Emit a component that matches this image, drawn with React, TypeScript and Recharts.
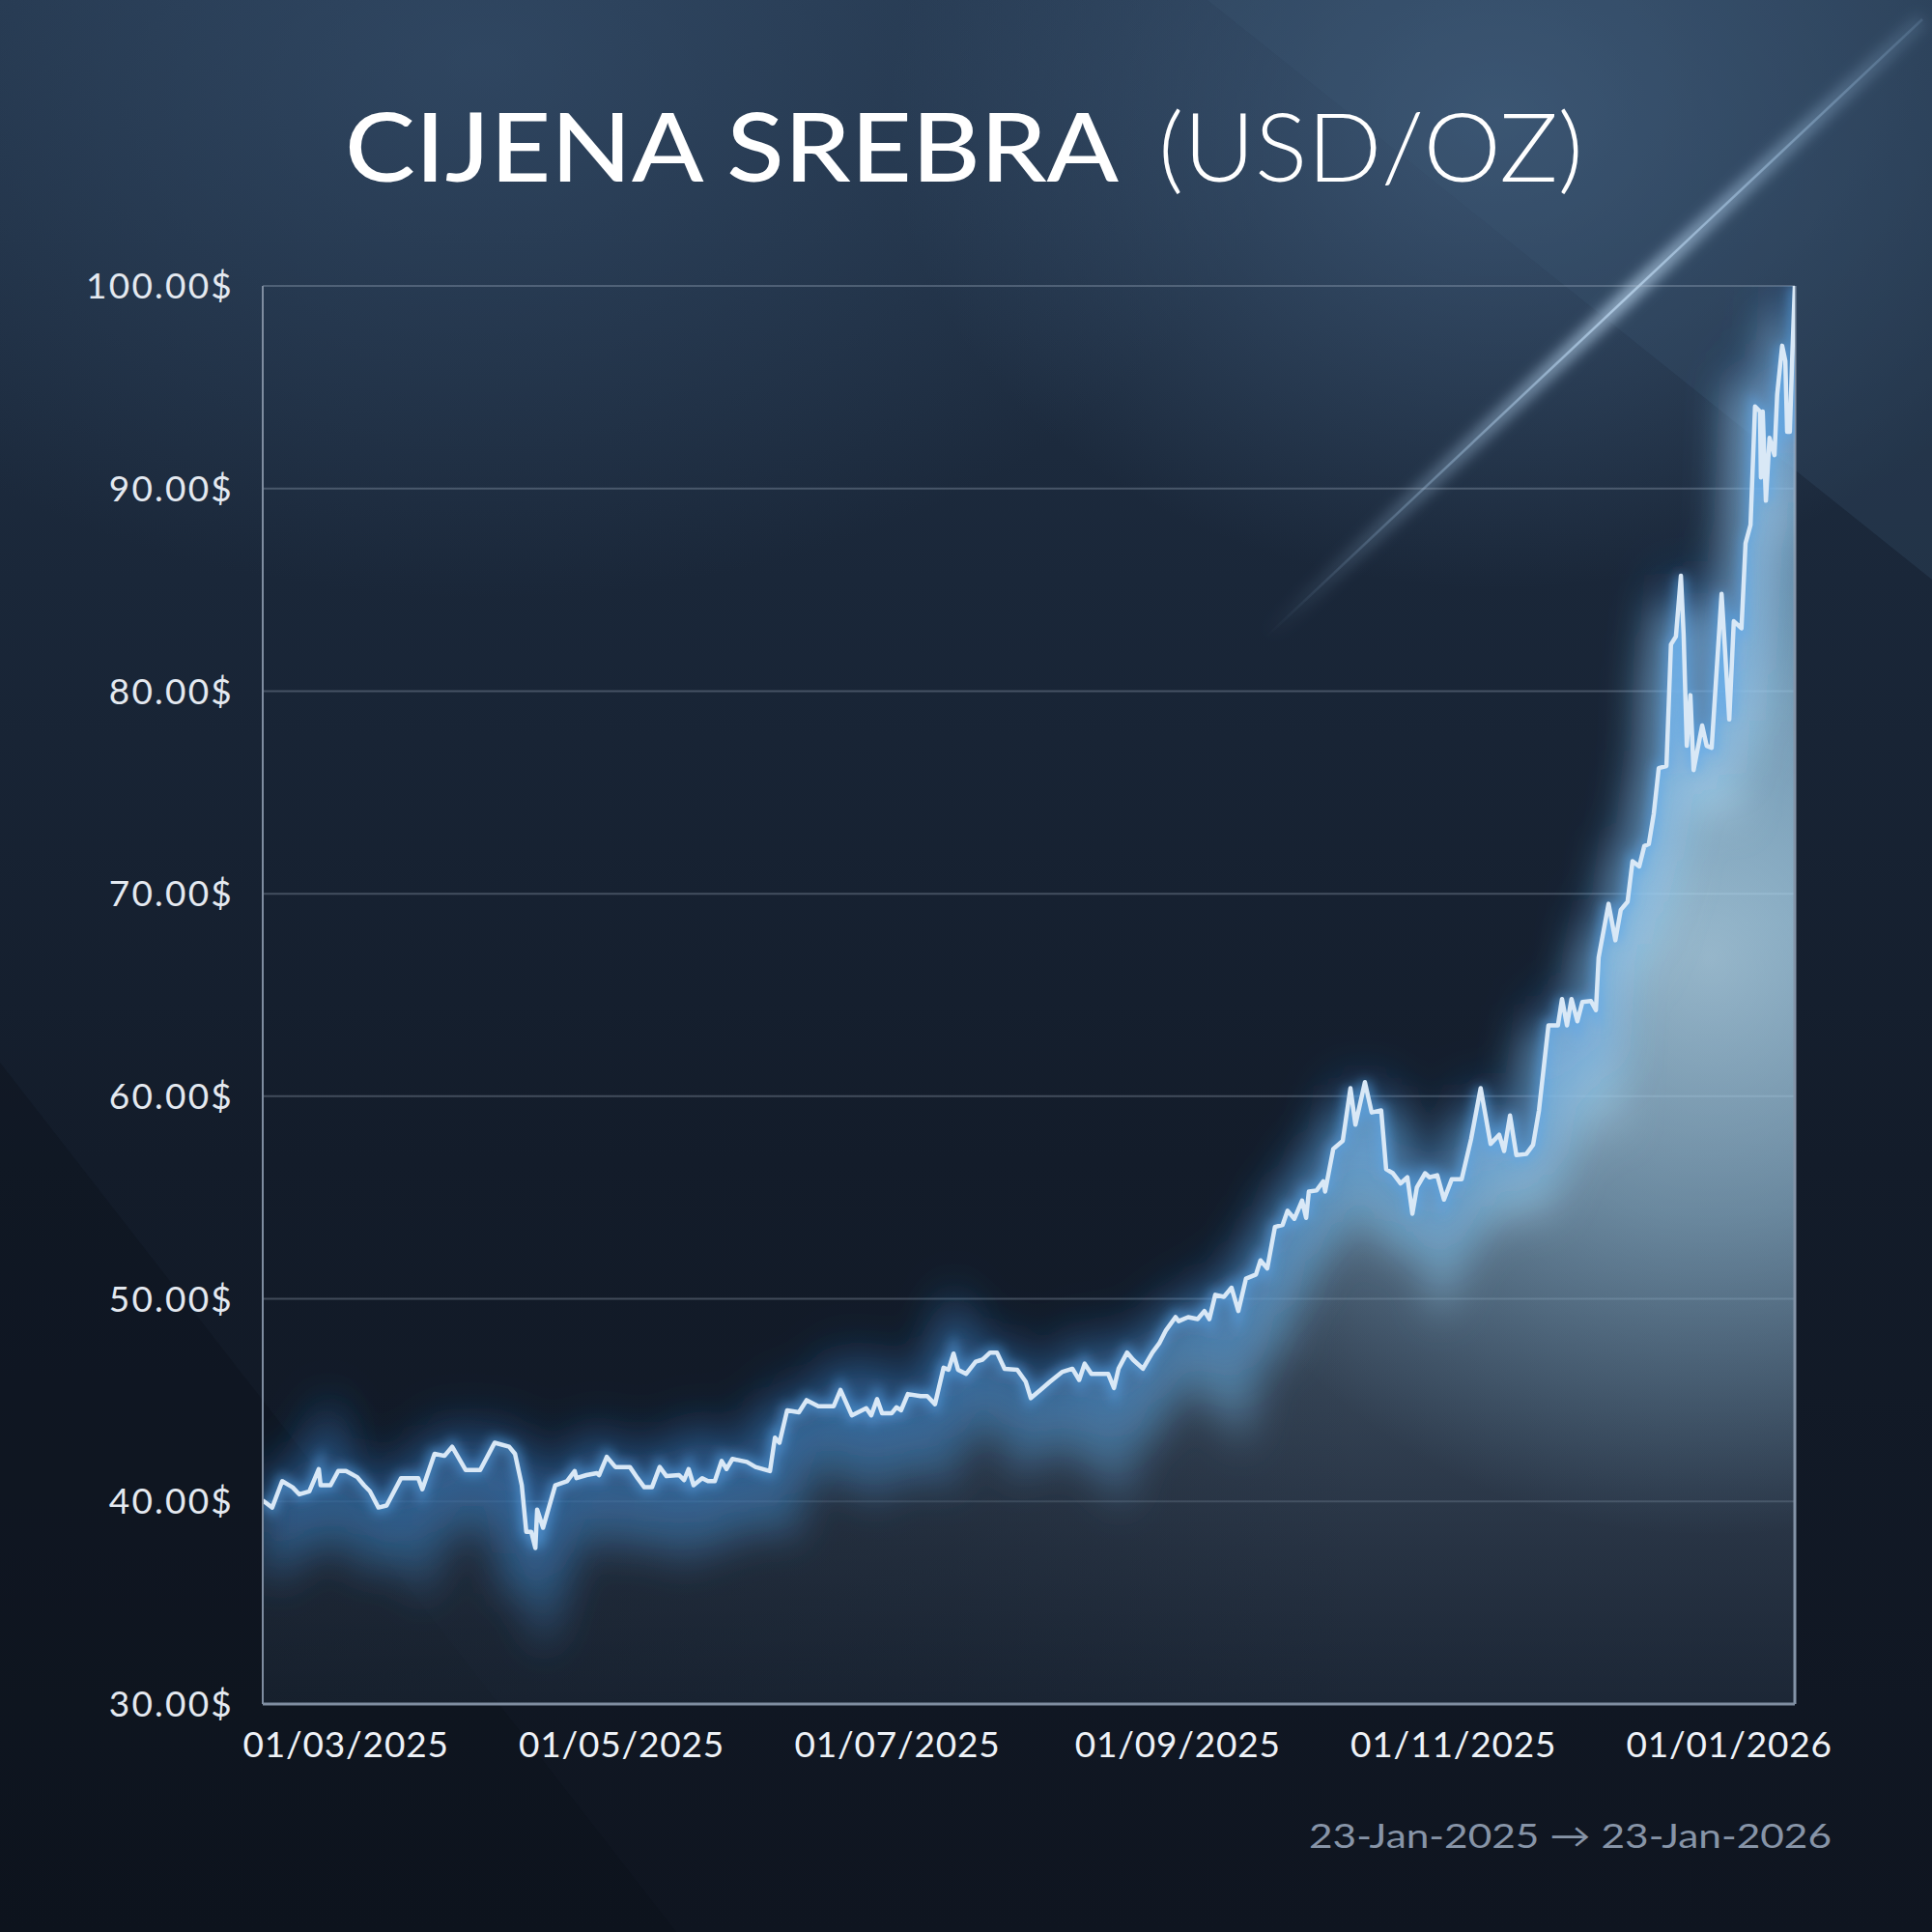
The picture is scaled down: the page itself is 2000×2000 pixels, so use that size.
import { ComposedChart, Area, Line, XAxis, YAxis, CartesianGrid, ReferenceLine } from 'recharts'

// days counted from 10 Feb 2025 (x axis is linear in days)
const dayOffsets = [
  0.6, 2.7, 4.9, 7.2, 8.7, 10.9, 13.0, 13.4, 15.6, 17.3,
  19.0, 21.5, 23.0, 24.3, 26.2, 28.0, 31.2, 35.0, 35.9, 38.6,
  40.8, 42.5, 45.5, 48.7, 51.9, 55.1, 56.4, 57.9, 58.9, 60.0,
  60.9, 61.3, 62.6, 65.3, 67.9, 69.6, 70.0, 72.2, 74.5, 75.0,
  76.7, 78.6, 81.8, 83.5, 85.0, 86.7, 88.4, 89.9, 92.7, 93.8,
  94.8, 95.9, 97.8, 99.1, 100.6, 102.1, 103.2, 104.5, 107.7, 109.6,
  112.8, 113.9, 114.9, 116.6, 119.2, 120.9, 123.5, 126.9, 128.4, 129.4,
  130.9, 134.1, 135.2, 136.5, 137.6, 139.7, 140.8, 141.8, 143.3, 146.1,
  147.6, 149.3, 151.2, 152.3, 153.4, 154.4, 156.2, 158.3, 159.8, 161.5,
  163.0, 164.7, 167.5, 169.4, 170.5, 172.6, 174.7, 177.5, 179.7, 181.2,
  182.4, 183.9, 187.6, 188.9, 189.9, 191.8, 193.1, 195.3, 197.4, 198.9,
  200.4, 202.5, 203.2, 205.3, 207.4, 208.9, 210.0, 211.3, 213.2, 214.9,
  216.4, 218.1, 220.3, 221.3, 222.8, 224.5, 226.2, 227.3, 228.8, 230.5,
  231.4, 232.0, 233.7, 235.2, 235.6, 237.4, 239.5, 241.2, 242.3, 244.4,
  245.9, 248.0, 249.1, 250.6, 252.3, 253.8, 254.9, 255.9, 257.7, 258.7,
  260.4, 261.9, 263.6, 265.8, 267.9, 270.0, 272.2, 274.1, 275.2, 276.5,
  277.9, 280.1, 281.6, 282.9, 285.0, 287.1, 288.0, 289.1, 290.1, 291.4,
  292.5, 294.4, 295.5, 296.1, 298.3, 299.8, 301.0, 302.5, 303.6, 305.1,
  306.2, 307.2, 308.3, 309.4, 311.1, 312.1, 313.2, 314.3, 314.9, 315.6,
  316.4, 317.1, 319.0, 320.0, 321.1, 323.3, 325.0, 326.0, 327.7, 328.6,
  329.7, 330.7, 331.8, 332.0, 332.4, 333.1, 333.9, 335.0, 335.6, 336.7,
  337.4, 337.8, 338.4, 338.9, 339.5,
]

const prices = [
  40.05, 39.7, 41.0, 40.7, 40.35, 40.5, 41.6, 40.8, 40.8, 41.5,
  41.5, 41.2, 40.8, 40.5, 39.7, 39.8, 41.15, 41.15, 40.6, 42.35,
  42.25, 42.7, 41.55, 41.55, 42.9, 42.7, 42.35, 40.8, 38.5, 38.5,
  37.7, 39.6, 38.7, 40.8, 41.0, 41.5, 41.15, 41.3, 41.4, 41.3,
  42.2, 41.7, 41.7, 41.15, 40.7, 40.7, 41.7, 41.25, 41.3, 41.05,
  41.6, 40.8, 41.15, 41.0, 41.0, 42.0, 41.6, 42.1, 41.95, 41.7,
  41.5, 43.15, 42.9, 44.5, 44.4, 45.0, 44.7, 44.7, 45.5, 45.0,
  44.25, 44.6, 44.25, 45.05, 44.35, 44.35, 44.65, 44.5, 45.3, 45.2,
  45.2, 44.8, 46.6, 46.5, 47.3, 46.5, 46.3, 46.9, 47.0, 47.35,
  47.35, 46.55, 46.5, 45.9, 45.1, 45.5, 45.9, 46.4, 46.55, 46.0,
  46.8, 46.3, 46.3, 45.6, 46.55, 47.35, 47.0, 46.55, 47.35, 47.8,
  48.45, 49.1, 48.9, 49.1, 49.0, 49.4, 49.0, 50.2, 50.1, 50.55,
  49.4, 51.0, 51.2, 51.9, 51.5, 53.55, 53.65, 54.35, 53.95, 54.85,
  54.0, 55.3, 55.35, 55.8, 55.3, 57.4, 57.8, 60.4, 58.6, 60.7,
  59.2, 59.3, 56.4, 56.2, 55.7, 56.0, 54.2, 55.5, 56.2, 56.0,
  56.1, 54.9, 55.9, 55.9, 57.9, 60.4, 57.65, 58.1, 57.3, 59.05,
  57.1, 57.15, 57.6, 59.3, 63.5, 63.5, 64.8, 63.5, 64.8, 63.7,
  64.65, 64.7, 64.25, 66.85, 69.5, 67.7, 69.2, 69.6, 71.6, 71.35,
  72.35, 72.45, 73.95, 76.2, 76.3, 82.3, 82.7, 85.7, 82.8, 77.3,
  79.8, 76.1, 78.3, 77.3, 77.2, 84.8, 78.6, 83.45, 83.1, 87.3,
  88.2, 94.05, 93.8, 90.55, 93.8, 89.4, 92.5, 91.65, 94.65, 97.05,
  96.3, 92.8, 92.8, 96.3, 100.0,
]

const yTicks = [30, 40, 50, 60, 70, 80, 90, 100]
const monthTickDays = [19, 80, 141, 203, 264, 325]
const monthTickLabels = ['01/03/2025', '01/05/2025', '01/07/2025', '01/09/2025', '01/11/2025', '01/01/2026']
const titleMain = 'CIJENA SREBRA'
const titleUnit = '(USD/OZ)'
const rangeLabel = '23-Jan-2025 \u2192 23-Jan-2026'

const data = dayOffsets.map((d, i) => ({ day: d, price: prices[i] }))

const font = 'Lato, "Open Sans", sans-serif'

export default function App() {
  return (
    <div
      style={{
        position: 'absolute',
        left: 0,
        top: 0,
        width: 2000,
        height: 2000,
        overflow: 'hidden',
        fontFamily: font,
        background:
          'radial-gradient(ellipse 900px 700px at 1550px 120px, rgba(85,120,158,0.5), rgba(85,120,158,0) 70%),' +
          'radial-gradient(ellipse 1200px 800px at 500px 60px, rgba(60,88,120,0.5), rgba(60,88,120,0) 70%),' +
          'linear-gradient(180deg, #23354b 0%, #1a2739 30%, #131c2a 60%, #0f1520 100%)',
      }}
    >
      {/* light streak, top right */}
      <svg width={2000} height={2000} style={{ position: 'absolute', left: 0, top: 0 }}>
        <defs>
          <linearGradient id="beam" x1="1310" y1="660" x2="1990" y2="20" gradientUnits="userSpaceOnUse">
            <stop offset="0" stopColor="#9ec6ea" stopOpacity={0} />
            <stop offset="0.55" stopColor="#c2ddf5" stopOpacity={0.7} />
            <stop offset="1" stopColor="#9ec6ea" stopOpacity={0.15} />
          </linearGradient>
          <filter id="beamBlur"><feGaussianBlur stdDeviation="7" /></filter>
        </defs>
        <polygon points="0,1100 700,2000 0,2000" fill="#0c121b" opacity={0.35} />
        <polygon points="1250,0 2000,0 2000,600" fill="#3b5673" opacity={0.25} />
        <line x1="1310" y1="660" x2="1990" y2="20" stroke="url(#beam)" strokeWidth={16} filter="url(#beamBlur)" />
        <line x1="1310" y1="660" x2="1990" y2="20" stroke="url(#beam)" strokeWidth={2.5} />
      </svg>

      <div style={{ position: 'absolute', left: 0, top: 0 }}>
        <ComposedChart
          width={2000}
          height={2000}
          data={data}
          margin={{ top: 296, right: 142, bottom: 0, left: 0 }}
        >
          <defs>
            <linearGradient id="areaFill" x1="0" y1="0" x2="0" y2="1">
              <stop offset="0" stopColor="#7fb2dc" stopOpacity={0.9} />
              <stop offset="0.45" stopColor="#95c3e0" stopOpacity={0.9} />
              <stop offset="0.6" stopColor="#84a4be" stopOpacity={0.85} />
              <stop offset="0.75" stopColor="#627a92" stopOpacity={0.78} />
              <stop offset="0.88" stopColor="#485a70" stopOpacity={0.7} />
              <stop offset="1" stopColor="#304156" stopOpacity={0.62} />
            </linearGradient>
            <linearGradient id="areaSide" x1="0" y1="0" x2="1" y2="0">
              <stop offset="0" stopColor="#0d1520" stopOpacity={0.55} />
              <stop offset="0.45" stopColor="#0d1520" stopOpacity={0.32} />
              <stop offset="0.72" stopColor="#0d1520" stopOpacity={0} />
              <stop offset="1" stopColor="#0d1520" stopOpacity={0} />
            </linearGradient>
            <linearGradient id="bandColour" x1="0" y1="0" x2="1" y2="0">
              <stop offset="0" stopColor="#3a72a8" />
              <stop offset="0.45" stopColor="#4886be" />
              <stop offset="0.72" stopColor="#84c4ec" />
              <stop offset="1" stopColor="#c4e8fb" />
            </linearGradient>
            <radialGradient id="hotSpot" cx="1770" cy="990" r="600" gradientUnits="userSpaceOnUse">
              <stop offset="0" stopColor="#c8ebfd" stopOpacity={0.92} />
              <stop offset="0.45" stopColor="#a9daf5" stopOpacity={0.62} />
              <stop offset="1" stopColor="#8cc4ea" stopOpacity={0} />
            </radialGradient>
            <filter id="bandBlur" filterUnits="userSpaceOnUse" x="272" y="296" width="1586" height="1468">
              <feOffset dy="36" />
              <feGaussianBlur stdDeviation="20" />
            </filter>
            <filter id="glowWide" filterUnits="userSpaceOnUse" x="272" y="296" width="1586" height="1468">
              <feGaussianBlur stdDeviation="24" />
            </filter>
            <filter id="glowNear" filterUnits="userSpaceOnUse" x="0" y="0" width="2000" height="2000">
              <feGaussianBlur stdDeviation="6" />
            </filter>
          </defs>
          <CartesianGrid
            horizontal
            vertical={false}
            stroke="rgba(185,200,220,0.28)"
            strokeWidth={2}
          />
          <XAxis
            dataKey="day"
            type="number"
            domain={[0.6, 339.5]}
            ticks={monthTickDays}
            tickFormatter={(v: number) => monthTickLabels[monthTickDays.indexOf(v)]}
            height={236}
            tickLine={false}
            tickSize={0}
            tickMargin={29}
            axisLine={{ stroke: '#7f8da0', strokeWidth: 3 }}
            tick={{ fill: '#eef2f7', fontSize: 37, fontFamily: font, letterSpacing: 0.8 }}
            allowDataOverflow
          />
          <YAxis
            domain={[30, 100]}
            ticks={yTicks}
            tickFormatter={(v: number) => v.toFixed(2) + '$'}
            width={272}
            tickLine={false}
            tickSize={0}
            tickMargin={30}
            axisLine={{ stroke: '#7f8da0', strokeWidth: 2 }}
            tick={{ fill: '#e4e9f0', fontSize: 37, fontFamily: font, letterSpacing: 2.2 }}
            allowDataOverflow
          />
          <ReferenceLine x={339.5} stroke="#8494a8" strokeWidth={3} />
          <Area type="linear" dataKey="price" stroke="none" fill="url(#areaFill)" isAnimationActive={false} />
          <Area type="linear" dataKey="price" stroke="none" fill="url(#areaSide)" isAnimationActive={false} />
          <Area type="linear" dataKey="price" stroke="none" fill="url(#hotSpot)" isAnimationActive={false} />
          <Line
            type="linear"
            dataKey="price"
            stroke="url(#bandColour)"
            strokeWidth={56}
            strokeOpacity={0.55}
            filter="url(#bandBlur)"
            dot={false}
            isAnimationActive={false}
          />
          <Line
            type="linear"
            dataKey="price"
            stroke="#2f7fd6"
            strokeWidth={44}
            strokeOpacity={0.28}
            filter="url(#glowWide)"
            dot={false}
            isAnimationActive={false}
          />
          <Line
            type="linear"
            dataKey="price"
            stroke="#5aa8ee"
            strokeWidth={12}
            strokeOpacity={0.55}
            filter="url(#glowNear)"
            dot={false}
            isAnimationActive={false}
          />
          <Line
            type="linear"
            dataKey="price"
            stroke="#d9e8f6"
            strokeWidth={4.5}
            strokeLinejoin="round"
            dot={false}
            isAnimationActive={false}
          />
        </ComposedChart>
      </div>

      <svg width={2000} height={2000} style={{ position: 'absolute', left: 0, top: 0, pointerEvents: 'none' }}>
        <text x={357} y={188} fill="#ffffff" fontSize={98} fontWeight={500} fontFamily={font}
          textLength={801} lengthAdjust="spacingAndGlyphs">{titleMain}</text>
        <text x={1199} y={188} fill="#ffffff" fontSize={98} fontWeight={300} fontFamily={font}
          textLength={440} lengthAdjust="spacingAndGlyphs">{titleUnit}</text>
        <text x={1355} y={1913} fill="#8794a7" fontSize={35} fontFamily={font}
          textLength={541} lengthAdjust="spacingAndGlyphs">{rangeLabel}</text>
      </svg>
    </div>
  )
}
